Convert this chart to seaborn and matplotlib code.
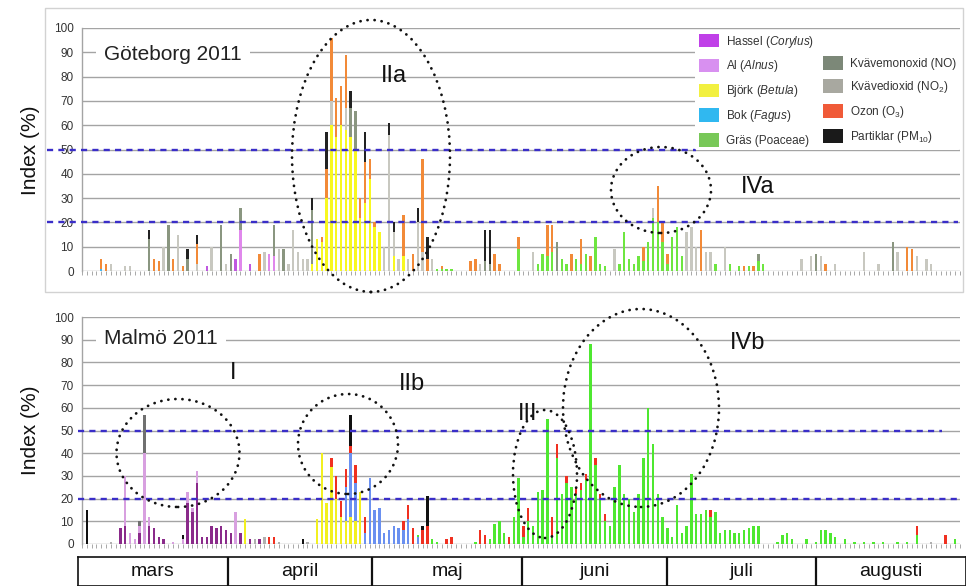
import numpy as np
import pandas as pd
import matplotlib
matplotlib.use("Agg")
import matplotlib.pyplot as plt
import seaborn as sns
from matplotlib.patches import Ellipse, Patch, Rectangle

sns.set_theme(style="white")
plt.rcParams["font.family"] = ["Liberation Sans", "DejaVu Sans"]
plt.rcParams["mathtext.fontset"] = "custom"
plt.rcParams["mathtext.rm"] = "Liberation Sans"
plt.rcParams["mathtext.it"] = "Liberation Sans:italic"

# ---------------- data ----------------
components = ["Hassel", "Al", "Björk", "Bok", "Gräs", "NO", "NO2", "O3", "PM10"]
legend_labels = ["Hassel ($\\it{Corylus}$)", "Al ($\\it{Alnus}$)", "Björk ($\\it{Betula}$)",
                 "Bok ($\\it{Fagus}$)", "Gräs (Poaceae)", "Kvävemonoxid (NO)",
                 "Kvävedioxid (NO$_2$)", "Ozon (O$_3$)", "Partiklar (PM$_{10}$)"]
months = ["mars", "april", "maj", "juni", "juli", "augusti"]
month_days = [31, 30, 31, 30, 31, 31]
yticks = list(range(0, 101, 10))
thresholds = [50, 20]

# Göteborg 2011: (day index from 1 March, index value)
got_hassel = [(26, 2), (32, 5), (35, 3)]
got_al = [(33, 17), (39, 7), (40, 6)]
got_bjork = [(48, 3), (49, 13), (50, 12), (51, 30), (52, 60), (53, 55), (54, 60), (55, 58),
             (56, 55), (57, 50), (58, 22), (59, 28), (60, 38), (61, 18), (62, 16), (65, 6), (67, 6)]
got_bok = [(4, 1)]
got_gras = [(74, 1), (75, 1), (76, 1), (77, 1), (91, 9), (95, 3), (96, 7), (97, 6), (98, 8),
            (100, 5), (101, 3), (103, 5), (104, 3), (105, 7), (107, 14), (108, 3), (109, 2),
            (112, 3), (113, 16), (114, 5), (115, 3), (116, 6), (117, 4), (118, 12), (119, 22),
            (120, 20), (121, 12), (122, 3), (123, 14), (124, 18), (125, 6), (132, 3), (135, 3),
            (137, 2), (139, 2), (141, 4), (142, 3)]
got_no = [(14, 13), (18, 19), (22, 5), (29, 19), (31, 7), (33, 9), (40, 13), (42, 9), (48, 22),
          (56, 12), (57, 16), (84, 4), (85, 3), (99, 12), (141, 3), (153, 7), (169, 12)]
got_no2 = [(6, 3), (9, 2), (10, 2), (17, 10), (20, 15), (24, 3), (27, 10), (30, 3), (38, 8),
           (41, 9), (43, 3), (44, 17), (45, 8), (46, 5), (47, 5), (52, 10), (55, 9), (63, 10),
           (64, 56), (65, 10), (66, 5), (68, 5), (70, 20), (71, 8), (73, 5), (83, 3), (94, 8),
           (111, 9), (119, 4), (126, 16), (127, 18), (128, 10), (130, 8), (131, 8), (134, 10),
           (150, 5), (152, 6), (154, 6), (157, 3), (163, 8), (166, 3), (170, 8), (174, 6),
           (176, 5), (177, 3)]
got_o3 = [(4, 4), (5, 3), (15, 5), (16, 4), (19, 5), (21, 2), (24, 8), (37, 7), (50, 2), (51, 12),
          (52, 26), (53, 16), (54, 16), (55, 22), (58, 8), (59, 17), (60, 8), (61, 2), (67, 17),
          (69, 7), (71, 38), (72, 5), (75, 1), (81, 4), (82, 5), (86, 7), (87, 3), (91, 5),
          (97, 13), (98, 11), (102, 7), (104, 10), (106, 6), (117, 6), (120, 15), (121, 8),
          (122, 4), (129, 17), (138, 2), (140, 2), (155, 3), (172, 10), (173, 9)]
got_pm = [(14, 4), (22, 4), (24, 4), (48, 5), (51, 15), (56, 7), (59, 12), (64, 5), (65, 4),
          (70, 6), (72, 9), (84, 13), (85, 14)]

# Malmö 2011
mal_hassel = [(8, 7), (9, 8), (12, 5), (14, 8), (15, 7), (16, 3), (17, 2), (22, 18), (23, 14),
              (24, 27), (25, 3), (26, 3), (27, 8), (28, 7), (29, 8), (30, 6), (31, 5), (33, 5),
              (35, 2), (37, 2)]
mal_al = [(9, 22), (10, 5), (11, 2), (12, 3), (13, 40), (14, 4), (19, 1), (21, 2), (22, 5),
          (23, 2), (24, 5), (32, 14)]
mal_bjork = [(34, 11), (49, 11), (50, 40), (51, 18), (52, 34), (53, 20), (54, 12), (55, 10),
             (56, 12), (57, 10), (58, 23)]
mal_bok = [(55, 15), (56, 28), (57, 17), (59, 5), (60, 29), (61, 15), (62, 16), (63, 5), (64, 6),
           (65, 8), (66, 7), (67, 6), (68, 11), (70, 3)]
mal_gras = [(70, 1), (73, 2), (74, 1), (82, 1), (85, 2), (86, 9), (87, 10), (88, 5), (90, 12),
            (91, 29), (92, 3), (93, 10), (94, 8), (95, 23), (96, 24), (97, 55), (98, 3), (99, 38),
            (100, 22), (101, 27), (102, 25), (103, 22), (104, 24), (105, 28), (106, 88), (107, 35),
            (108, 20), (109, 10), (110, 8), (111, 25), (112, 35), (113, 22), (114, 20), (115, 14),
            (116, 22), (117, 38), (118, 60), (119, 44), (120, 22), (121, 12), (122, 7), (123, 3),
            (124, 17), (125, 5), (126, 8), (127, 31), (128, 13), (129, 13), (130, 15), (131, 12),
            (132, 14), (133, 5), (134, 6), (135, 6), (136, 5), (137, 5), (138, 6), (139, 7),
            (140, 8), (141, 8), (145, 1), (146, 4), (147, 5), (148, 2), (151, 2), (153, 1),
            (154, 6), (155, 6), (156, 5), (157, 3), (159, 2), (161, 1), (163, 1), (165, 1),
            (167, 1), (170, 1), (172, 1), (174, 4), (182, 2)]
mal_no = [(12, 2), (13, 17)]
mal_no2 = [(6, 1), (36, 2), (38, 3), (41, 1), (47, 1), (177, 1)]
mal_o3 = [(39, 3), (40, 3), (52, 4), (53, 10), (54, 7), (55, 8), (56, 3), (57, 8), (59, 7),
          (67, 4), (68, 6), (69, 7), (71, 6), (72, 8), (76, 2), (77, 3), (83, 6), (84, 4), (89, 3),
          (92, 5), (93, 6), (98, 9), (99, 6), (101, 3), (103, 3), (104, 3), (105, 3), (107, 3),
          (108, 2), (109, 3), (131, 3), (174, 4), (180, 4)]
mal_pm = [(1, 15), (21, 2), (46, 2), (56, 14), (71, 2), (72, 13)]

got_series = dict(zip(components, [got_hassel, got_al, got_bjork, got_bok, got_gras,
                                   got_no, got_no2, got_o3, got_pm]))
mal_series = dict(zip(components, [mal_hassel, mal_al, mal_bjork, mal_bok, mal_gras,
                                   mal_no, mal_no2, mal_o3, mal_pm]))


def to_frame(series):
    rows = [(d, comp, v) for comp, pairs in series.items() for d, v in pairs]
    return pd.DataFrame(rows, columns=["dag", "komponent", "index"])


got_df = to_frame(got_series)
mal_df = to_frame(mal_series)

# ---------------- styling ----------------
legend_colors = ["#c040e8", "#d890f0", "#f2f040", "#30b8f0", "#78c858",
                 "#7c8878", "#a8a8a0", "#f05a38", "#1a1a1a"]
got_colors = ["#c058e0", "#e088ec", "#f8f820", "#40b8f0", "#6ee640",
              "#8a9680", "#c8c8c0", "#f28a38", "#222222"]
mal_colors = ["#8a2a8a", "#d8a0e0", "#f2f020", "#6a90f0", "#4ee830",
              "#707070", "#b0b0b0", "#f03020", "#111111"]
stack_order = components[::-1]  # seaborn stacks first hue level on top

W, H = 966, 586
n_days = sum(month_days)
DAY0, DAYW = 80.4, 888 / n_days


def fx(px):
    return px / W


def fy(py):
    return 1 - py / H


def pxday(px):
    return (px - DAY0) / DAYW


fig = plt.figure(figsize=(W / 100, H / 100), dpi=100)
fig.patch.set_facecolor("white")

ax_top = fig.add_axes([fx(82), fy(271), fx(960) - fx(82), fy(28) - fy(271)])
ax_bot = fig.add_axes([fx(82), fy(544), fx(960) - fx(82), fy(317) - fy(544)])

fig.add_artist(Rectangle((fx(45), fy(292)), fx(963) - fx(45), fy(8) - fy(292),
                         fill=False, ec="#d2d2d2", lw=1, transform=fig.transFigure))


def draw_panel(ax, df, colors):
    pal = dict(zip(components, colors))
    sns.histplot(data=df, x="dag", weights="index", hue="komponent", hue_order=stack_order,
                 multiple="stack", discrete=True, shrink=0.5, palette=pal, alpha=1,
                 linewidth=0, legend=False, ax=ax, zorder=2)
    ax.set_xlim(pxday(82), pxday(960))
    ax.set_ylim(0, 100)
    ax.set_yticks(yticks)
    ax.set_xticks(np.arange(n_days))
    ax.tick_params(axis="x", length=3, width=0.6, color="#9a9a9a", labelbottom=False, bottom=True)
    ax.tick_params(axis="y", length=0, labelsize=8.5, labelcolor="#333333", pad=6)
    ax.grid(False)
    for t in yticks:
        ax.axhline(t, color="#a4a4a4", lw=1, zorder=1)
    ax.set_xlabel("")
    ax.set_ylabel("")
    for s in ["top", "right", "bottom"]:
        ax.spines[s].set_visible(False)
    ax.spines["left"].set_color("#a4a4a4")
    ax.spines["left"].set_linewidth(1)
    ax.patch.set_alpha(0)


draw_panel(ax_top, got_df, got_colors)
draw_panel(ax_bot, mal_df, mal_colors)

dash = dict(color="#3a2ec8", lw=1.7, ls=(0, (2.6, 2.2)), clip_on=False, zorder=4)
ax_top.plot([pxday(45), pxday(698)], [thresholds[0]] * 2, **dash)
ax_top.plot([pxday(45), pxday(962)], [thresholds[1]] * 2, **dash)
ax_bot.plot([pxday(76), pxday(945)], [thresholds[0]] * 2, **dash)
ax_bot.plot([pxday(76), pxday(962)], [thresholds[1]] * 2, **dash)

# panel titles
fig.text(fx(104), fy(54), "Göteborg 2011", fontsize=15, color="#222222", va="center", ha="left",
         bbox=dict(fc="white", ec="none", pad=6), zorder=5)
fig.text(fx(104), fy(339), "Malmö 2011", fontsize=15, color="#222222", va="center", ha="left",
         bbox=dict(fc="white", ec="none", pad=6), zorder=5)

for yc in (150, 430):
    fig.text(fx(30), fy(yc), "Index (%)", rotation=90, fontsize=15, ha="center", va="center",
             color="#111111")

# period labels
labels = [("IIa", 394, 76), ("IVa", 758, 187), ("I", 233, 373), ("IIb", 412, 384),
          ("III", 528, 414), ("IVb", 748, 343)]
for s, x, y in labels:
    fig.text(fx(x), fy(y), s, fontsize=17, ha="center", va="center", color="#111111", zorder=6)

# dotted ellipses (pixel centre, width, height)
ellipses = [(371, 156, 158, 272), (661, 190, 100, 86), (178, 453, 123, 108),
            (348, 444, 100, 100), (545, 474, 64, 128), (641, 408, 156, 198)]
for cx, cy, w, h in ellipses:
    fig.add_artist(Ellipse((fx(cx), fy(cy)), w / W, h / H, fill=False, ec="#111111", lw=2.0,
                           ls=(0, (0.05, 2.5)), capstyle="round", transform=fig.transFigure,
                           zorder=7))

# legend
handles = [Patch(fc=c, ec="none") for c in legend_colors]
blank = Patch(fc="none", ec="none")
hs = handles[:5] + [blank] + handles[5:]
ls_ = legend_labels[:5] + [""] + legend_labels[5:]
leg = fig.legend(hs, ls_, ncol=2, loc="upper left", bbox_to_anchor=(fx(695), fy(30)),
                 fontsize=8.5, frameon=True, facecolor="white", edgecolor="none", framealpha=1,
                 handlelength=1.7, handleheight=1.4, handletextpad=0.6, labelspacing=0.75,
                 columnspacing=0.8, borderpad=0.3, borderaxespad=0)
leg.set_zorder(8)
for t in leg.get_texts():
    t.set_color("#333333")

# month table
ax_m = fig.add_axes([fx(78), 0, fx(966) - fx(78), 29 / H])
ax_m.set_xlim(0, n_days)
ax_m.set_ylim(0, 1)
ax_m.set_xticks([])
ax_m.set_yticks([])
for s in ax_m.spines.values():
    s.set_color("#111111")
    s.set_linewidth(1.2)
edges = np.cumsum([0] + month_days)
for e in edges[1:-1]:
    ax_m.axvline(e, color="#111111", lw=1.6)
for m, a, b in zip(months, edges[:-1], edges[1:]):
    ax_m.text((a + b) / 2, 0.5, m, ha="center", va="center", fontsize=14, color="#111111")

fig.savefig("out.png", dpi=100, facecolor="white")
